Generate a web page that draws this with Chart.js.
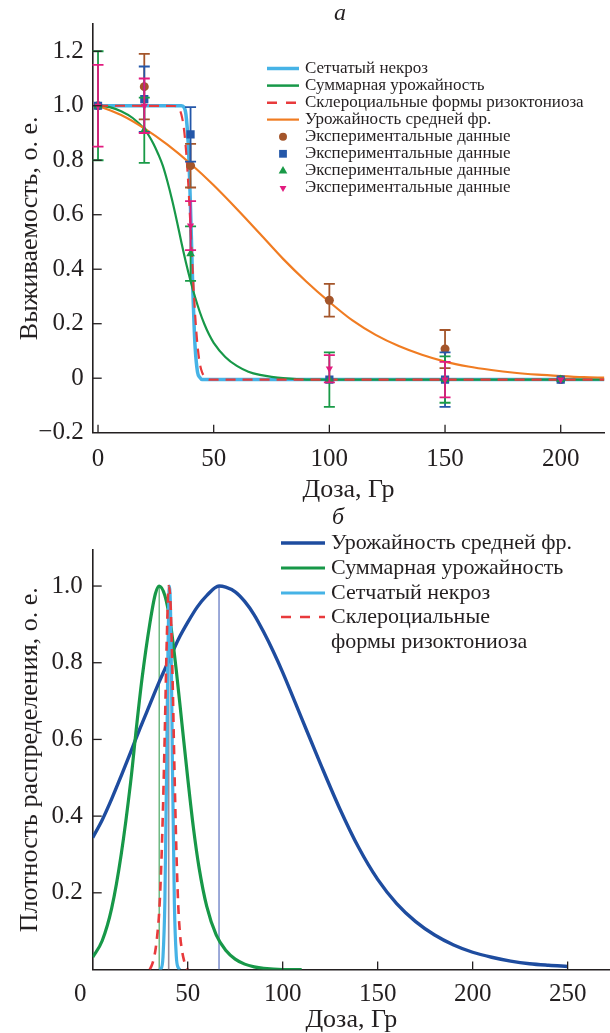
<!DOCTYPE html>
<html><head><meta charset="utf-8">
<script src="https://cdn.jsdelivr.net/npm/chart.js@4.4.1/dist/chart.umd.min.js"></script>
<style>
html,body{margin:0;padding:0;background:#fff;}
#wrap{position:relative;width:610px;height:1033px;overflow:hidden;background:#fff;}
canvas{position:absolute;left:0;}
#c1{top:0;}
#c2{top:505px;}
.panel{position:absolute;font-family:'Liberation Serif','Times New Roman',serif;font-style:italic;font-size:24px;line-height:24px;color:#231f20;}
</style></head><body>
<div id="wrap">
<canvas id="c1" width="610" height="505"></canvas>
<canvas id="c2" width="610" height="528"></canvas>
<div class="panel" style="left:334px;top:0px">а</div>
<div class="panel" style="left:332px;top:504px">б</div>
</div>
<script>
// ---------- tick values / labels ----------
const topXTicks = [0, 50, 100, 150, 200];
const topXTickLabels = ['0', '50', '100', '150', '200'];
const topYTicks = [-0.2, 0, 0.2, 0.4, 0.6, 0.8, 1.0, 1.2];
const topYTickLabels = ['\u22120.2', '0', '0.2', '0.4', '0.6', '0.8', '1.0', '1.2'];
const botXTicks = [0, 50, 100, 150, 200, 250];
const botXTickLabels = ['0\u2007\u2007', '50', '100', '150', '200', '250'];
const botYTicks = [0.2, 0.4, 0.6, 0.8, 1.0];
const botYTickLabels = ['0.2', '0.4', '0.6', '0.8', '1.0'];

// ---------- names ----------
const nameNecrosis = 'Сетчатый некроз';
const nameTotal = 'Суммарная урожайность';
const nameSclero = 'Склероциальные формы ризоктониоза';
const nameScleroLines = ['Склероциальные', 'формы ризоктониоза'];
const nameMiddle = 'Урожайность средней фр.';
const nameExp = 'Экспериментальные данные';
const xTitle = 'Доза, Гр';
const topYTitle = 'Выживаемость, о. е.';
const botYTitle = 'Плотность распределения, о. е.';

// ---------- panel a: survival curves ----------
const necrosisDose = [0, 36, 37, 38, 39, 39.5, 40, 40.5, 41, 41.5, 42, 43, 44, 45, 219];
const necrosisSurv = [1, 1, 0.996, 0.968, 0.86, 0.755, 0.62, 0.47, 0.32, 0.2, 0.11, 0.023, 0.003, -0.005, -0.005];
const scleroDose = [0, 33, 34, 35, 36, 37, 38, 39, 40, 41, 42, 43, 44, 45, 46, 47, 48, 219];
const scleroSurv = [1, 0.999, 0.997, 0.989, 0.969, 0.924, 0.841, 0.715, 0.552, 0.38, 0.23, 0.121, 0.054, 0.021, 0.007, 0, -0.005, -0.005];
const totalDose = [0, 5, 10, 15, 20, 22, 24, 26, 28, 30, 32, 34, 36, 38, 40, 42, 44, 46, 48, 50, 55, 60, 65, 70, 75, 80, 90, 219];
const totalSurv = [1, 0.995, 0.98, 0.955, 0.915, 0.89, 0.86, 0.823, 0.78, 0.722, 0.655, 0.58, 0.5, 0.425, 0.357, 0.296, 0.243, 0.198, 0.16, 0.13, 0.078, 0.045, 0.024, 0.012, 0.005, 0.0, -0.005, -0.005];
const middleDose = [0, 10, 20, 30, 40, 50, 60, 70, 80, 90, 100, 110, 120, 130, 140, 150, 160, 170, 180, 190, 200, 210, 219];
const middleSurv = [1, 0.966, 0.917, 0.857, 0.787, 0.708, 0.621, 0.53, 0.438, 0.355, 0.28, 0.212, 0.159, 0.118, 0.086, 0.061, 0.043, 0.03, 0.02, 0.013, 0.008, 0.004, 0.002];

// experimental points
const expDose = [0, 20, 40, 100, 150, 200];
const expCircle = [1.0, 1.07, 0.78, 0.286, 0.107, -0.005];
const expCircleErr = [0, 0.12, 0.08, 0.06, 0.07, 0];
const expSquare = [1.0, 1.024, 0.895, -0.005, -0.005, -0.005];
const expSquareErr = [0, 0.12, 0.1, 0, 0.1, 0];
const expTriangle = [1.0, 0.91, 0.457, -0.005, -0.005, -0.005];
const expTriangleErr = [0.2, 0.12, 0.1, 0.1, 0.085, 0];
const expDown = [1.0, 1.0, 0.56, 0.035, -0.005, -0.005];
const expDownErr = [0.15, 0.1, 0.09, 0.05, 0.065, 0];

// ---------- panel b: normalised densities ----------
const middleDensDose = [0, 5, 10, 15, 20, 25, 30, 35, 40, 45, 50, 55, 60, 66.5, 70, 75, 80, 85, 90, 95, 100, 110, 120, 130, 140, 150, 160, 170, 180, 190, 200, 210, 220, 230, 240, 250];
const middleDens = [0.344, 0.39, 0.445, 0.505, 0.567, 0.63, 0.69, 0.75, 0.805, 0.86, 0.905, 0.945, 0.975, 1.0, 0.997, 0.985, 0.96, 0.925, 0.88, 0.83, 0.775, 0.655, 0.535, 0.42, 0.318, 0.235, 0.172, 0.125, 0.09, 0.064, 0.045, 0.032, 0.022, 0.015, 0.011, 0.008];
const totalDensDose = [0, 5, 10, 15, 20, 23, 26, 30, 33, 35, 38, 41, 44, 47, 50, 53, 56, 60, 65, 70, 75, 80, 85, 90, 100, 110];
const totalDens = [0.032, 0.075, 0.16, 0.3, 0.49, 0.63, 0.76, 0.9, 0.98, 1.0, 0.975, 0.9, 0.78, 0.64, 0.5, 0.37, 0.265, 0.165, 0.09, 0.05, 0.027, 0.014, 0.007, 0.003, 0, 0];
const necrosisDensDose = [35, 36, 37, 38, 39, 39.5, 40, 40.4, 41, 41.5, 42, 43, 44, 45, 46];
const necrosisDens = [0, 0.003, 0.033, 0.18, 0.56, 0.79, 0.95, 1.0, 0.93, 0.75, 0.52, 0.17, 0.035, 0.005, 0];
const scleroDensDose = [30, 31, 32, 33, 34, 35, 36, 37, 38, 39, 40, 41, 42, 43, 44, 45, 46, 47, 48, 49, 50];
const scleroDens = [0, 0.01, 0.025, 0.05, 0.09, 0.15, 0.26, 0.42, 0.63, 0.86, 1.0, 0.95, 0.77, 0.53, 0.32, 0.17, 0.09, 0.05, 0.025, 0.01, 0];
const modeDose = [35, 40, 66.5];   // total, necrosis/sclero, middle fraction
const modeLevel = [0, 1];

// ---------- helpers ----------
const xy = (xs, ys) => xs.map((x, i) => ({x: x, y: ys[i]}));
const INK = '#231f20';
const COL = {cyan: '#46b3e6', green: '#179848', red: '#e83a3c', orange: '#f07c22', navy: '#1e4c9f',
  brown: '#a4552a', square: '#2457a9', tri: '#199a47', pink: '#e21b7f', modeG: '#4aa865', modeC: '#9a8a98', modeB: '#8495cf'};

Chart.defaults.font.family = "'Liberation Serif', 'Times New Roman', serif";
Chart.defaults.color = INK;
Chart.defaults.animation = false;

function lineDs(label, data, color, width, dash, order) {
  return {type: 'line', label: label, data: data, borderColor: color, backgroundColor: color, borderWidth: width,
    borderDash: dash || [], pointRadius: 0, pointHoverRadius: 0, fill: false, cubicInterpolationMode: 'monotone', order: order};
}
function ptDs(label, data, color, style, r, rot, errors, order) {
  return {type: 'line', label: label, data: data, showLine: false, pointStyle: style, pointRadius: r, pointHoverRadius: r,
    pointRotation: rot || 0, pointBackgroundColor: color, pointBorderColor: color, pointBorderWidth: 0,
    borderColor: color, backgroundColor: color, errors: errors, errorColor: color, order: order};
}
function scaleCfg(o) {
  return {
    type: 'linear', position: o.pos, min: o.min, max: o.max,
    afterBuildTicks: s => { s.ticks = o.ticks.map(v => ({value: v})); },
    afterFit: s => { if (o.width) s.width = o.width; if (o.height) s.height = o.height; },
    grid: {display: true, drawOnChartArea: false, drawTicks: false},
    border: {display: true, color: INK, width: 1.6},
    ticks: {autoSkip: false, maxRotation: 0, minRotation: 0, padding: o.pad, font: {size: 25}, color: INK,
      callback: (v, i) => o.labels[i]},
    title: {display: true, text: o.title, font: {size: 26, lineHeight: 1}, color: INK, padding: o.titlePad}
  };
}

const errorBars = {
  id: 'errorBars',
  beforeDatasetDraw(chart, args) {
    const ds = chart.data.datasets[args.index];
    if (!ds.errors) return;
    const ctx = chart.ctx, xs = chart.scales.x, ys = chart.scales.y;
    ctx.save();
    ctx.strokeStyle = ds.errorColor;
    ctx.lineWidth = 1.8;
    ds.data.forEach((p, i) => {
      const e = ds.errors[i];
      if (!e) return;
      const px = xs.getPixelForValue(p.x);
      const y1 = ys.getPixelForValue(p.y + e), y2 = ys.getPixelForValue(p.y - e);
      ctx.beginPath();
      ctx.moveTo(px, y1); ctx.lineTo(px, y2);
      ctx.moveTo(px - 5.5, y1); ctx.lineTo(px + 5.5, y1);
      ctx.moveTo(px - 5.5, y2); ctx.lineTo(px + 5.5, y2);
      ctx.stroke();
    });
    ctx.restore();
  }
};

const innerTicks = {
  id: 'innerTicks',
  afterDatasetsDraw(chart) {
    const ctx = chart.ctx, a = chart.chartArea, sx = chart.scales.x, sy = chart.scales.y;
    ctx.save();
    ctx.strokeStyle = INK; ctx.lineWidth = 1.3;
    sx.ticks.forEach(t => {
      const px = sx.getPixelForValue(t.value);
      if (px - a.left < 2) return;
      ctx.beginPath(); ctx.moveTo(px, a.bottom); ctx.lineTo(px, a.bottom - 8); ctx.stroke();
    });
    sy.ticks.forEach(t => {
      const py = sy.getPixelForValue(t.value);
      if (a.bottom - py < 2) return;
      ctx.beginPath(); ctx.moveTo(a.left, py); ctx.lineTo(a.left + 9, py); ctx.stroke();
    });
    ctx.restore();
  }
};

function makeLegend(cfg) {
  return {
    id: 'panelLegend',
    afterDraw(chart) {
      const ctx = chart.ctx;
      ctx.save();
      ctx.font = cfg.font;
      ctx.textBaseline = 'middle';
      ctx.textAlign = 'left';
      cfg.items.forEach((it, k) => {
        const y = cfg.rows[k];
        const ds = chart.data.datasets[it.ds];
        ctx.save();
        if (it.kind === 'line') {
          ctx.strokeStyle = ds.borderColor;
          ctx.lineWidth = it.w || ds.borderWidth;
          ctx.setLineDash(it.dash || []);
          ctx.beginPath(); ctx.moveTo(cfg.x0, y); ctx.lineTo(cfg.x1, y); ctx.stroke();
        } else {
          ctx.fillStyle = ds.pointBackgroundColor;
          ctx.strokeStyle = ds.pointBackgroundColor;
          Chart.helpers.drawPoint(ctx, {pointStyle: ds.pointStyle, rotation: ds.pointRotation, radius: it.r, borderWidth: 0}, (cfg.x0 + cfg.x1) / 2, y);
        }
        ctx.restore();
        ctx.fillStyle = INK;
        const lines = Array.isArray(it.text) ? it.text : [it.text];
        lines.forEach((t, j) => ctx.fillText(t, cfg.tx, y + j * cfg.gap));
      });
      ctx.restore();
    }
  };
}

// ---------- panel a ----------
new Chart(document.getElementById('c1'), {
  type: 'line',
  data: {datasets: [
    ptDs(nameExp, xy(expDose, expCircle), COL.brown, 'circle', 4.5, 0, expCircleErr, 4),
    ptDs(nameExp, xy(expDose, expSquare), COL.square, 'rect', 5.8, 0, expSquareErr, 3),
    ptDs(nameExp, xy(expDose, expTriangle), COL.tri, 'triangle', 5, 0, expTriangleErr, 2),
    ptDs(nameExp, xy(expDose, expDown), COL.pink, 'triangle', 4.2, 180, expDownErr, 1),
    lineDs(nameSclero, xy(scleroDose, scleroSurv), COL.red, 2.2, [10, 7], 10),
    lineDs(nameNecrosis, xy(necrosisDose, necrosisSurv), COL.cyan, 3.5, [], 13),
    lineDs(nameTotal, xy(totalDose, totalSurv), COL.green, 2.2, [], 12),
    lineDs(nameMiddle, xy(middleDose, middleSurv), COL.orange, 2.2, [], 11)
  ]},
  options: {
    responsive: false, devicePixelRatio: 1, animation: false,
    layout: {padding: {top: 12.7, right: 0, bottom: 0, left: 0}},
    plugins: {legend: {display: false}, tooltip: {enabled: false}},
    scales: {
      x: scaleCfg({pos: 'bottom', min: -2.3, max: 218.8, ticks: topXTicks, labels: topXTickLabels, pad: 12,
        height: 72.3, title: xTitle, titlePad: {top: 0, bottom: 2}}),
      y: scaleCfg({pos: 'left', min: -0.2, max: 1.3, ticks: topYTicks, labels: topYTickLabels, pad: 9,
        width: 92.7, title: topYTitle, titlePad: {top: 17, bottom: 0}})
    }
  },
  plugins: [errorBars, innerTicks, makeLegend({
    font: "17px 'Liberation Serif', 'Times New Roman', serif",
    x0: 267, x1: 299, tx: 305, gap: 0,
    rows: [68.5, 85.6, 102.7, 119.6, 136.7, 153.8, 170.9, 188],
    items: [
      {ds: 5, kind: 'line', text: nameNecrosis},
      {ds: 6, kind: 'line', text: nameTotal, w: 2.5},
      {ds: 4, kind: 'line', text: nameSclero, dash: [10, 9], w: 2.5},
      {ds: 7, kind: 'line', text: nameMiddle},
      {ds: 0, kind: 'point', text: nameExp, r: 4},
      {ds: 1, kind: 'point', text: nameExp, r: 5.5},
      {ds: 2, kind: 'point', text: nameExp, r: 5},
      {ds: 3, kind: 'point', text: nameExp, r: 4}
    ]
  })]
});

// ---------- panel b ----------
new Chart(document.getElementById('c2'), {
  type: 'line',
  data: {datasets: [
    lineDs(nameSclero, xy(scleroDensDose, scleroDens), COL.red, 2.6, [9, 7], 1),
    lineDs(nameNecrosis, xy(necrosisDensDose, necrosisDens), COL.cyan, 3.2, [], 2),
    lineDs(nameTotal, xy(totalDensDose, totalDens), COL.green, 3.2, [], 3),
    lineDs(nameMiddle, xy(middleDensDose, middleDens), COL.navy, 3.4, [], 4),
    Object.assign(lineDs('mode', xy([modeDose[0], modeDose[0]], modeLevel), COL.modeG, 1.2, [], 20), {cubicInterpolationMode: 'default', tension: 0}),
    Object.assign(lineDs('mode', xy([modeDose[1], modeDose[1]], modeLevel), COL.modeC, 1.6, [], 21), {cubicInterpolationMode: 'default', tension: 0}),
    Object.assign(lineDs('mode', xy([modeDose[2], modeDose[2]], modeLevel), COL.modeB, 1.6, [], 22), {cubicInterpolationMode: 'default', tension: 0})
  ]},
  options: {
    responsive: false, devicePixelRatio: 1, animation: false,
    layout: {padding: {top: 45, right: 0, bottom: 0, left: 0}},
    plugins: {legend: {display: false}, tooltip: {enabled: false}},
    scales: {
      x: scaleCfg({pos: 'bottom', min: 0, max: 272.3, ticks: botXTicks, labels: botXTickLabels, pad: 10,
        height: 63.5, title: xTitle, titlePad: {top: 0, bottom: 0}}),
      y: scaleCfg({pos: 'left', min: 0, max: 1.094, ticks: botYTicks, labels: botYTickLabels, pad: 10,
        width: 92.7, title: botYTitle, titlePad: {top: 17, bottom: 0}})
    }
  },
  plugins: [innerTicks, makeLegend({
    font: "22px 'Liberation Serif', 'Times New Roman', serif",
    x0: 281, x1: 325, tx: 331, gap: 25,
    rows: [38, 63, 88, 112],
    items: [
      {ds: 3, kind: 'line', text: nameMiddle},
      {ds: 2, kind: 'line', text: nameTotal},
      {ds: 1, kind: 'line', text: nameNecrosis},
      {ds: 0, kind: 'line', text: nameScleroLines, dash: [10, 9], w: 2.4}
    ]
  })]
});
</script>
</body></html>
